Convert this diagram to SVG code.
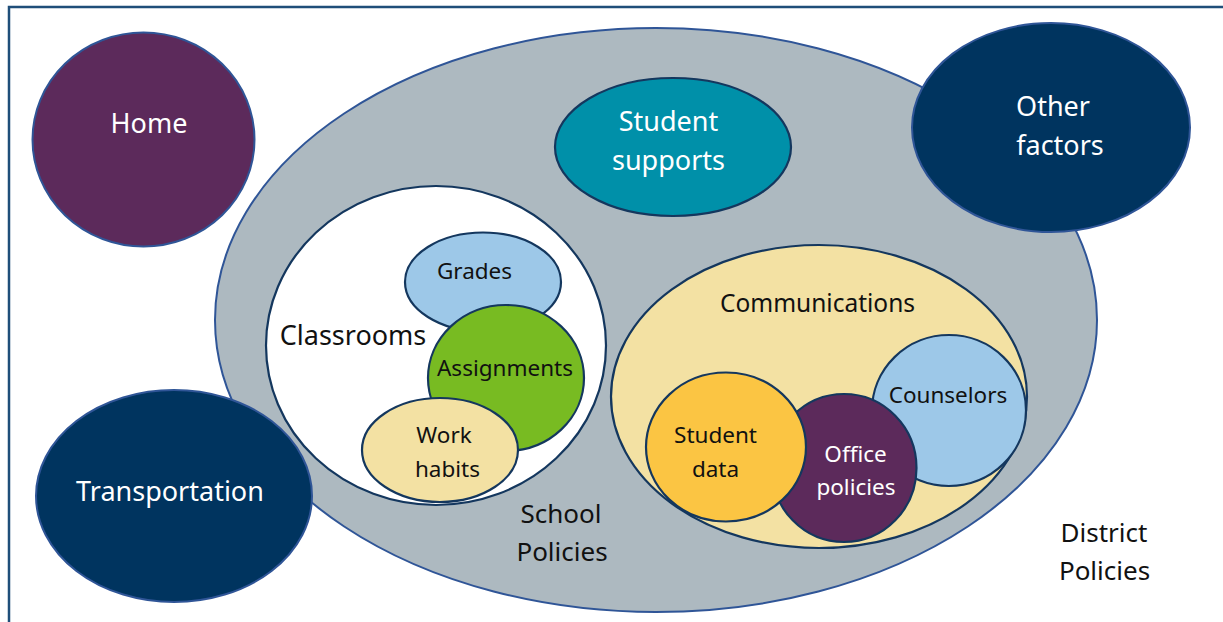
<svg xmlns="http://www.w3.org/2000/svg" width="1223" height="622" viewBox="0 0 1223 622">
  <style>
    text { font-family: "Noto Sans", "Open Sans", "DejaVu Sans", sans-serif; text-anchor: middle; }
    .light { fill: #ffffff; }
    .dark { fill: #111111; }
    .outer { stroke: #2f5597; stroke-width: 2; }
    .inner { stroke: #14375e; stroke-width: 2.2; }
    .big { font-size: 27px; }
    .mid { font-size: 22.5px; }
  </style>

  <!-- frame -->
  <rect x="9" y="7" width="1240" height="640" fill="#ffffff" stroke="#1f4e79" stroke-width="2.5"/>

  <!-- school policies (large gray ellipse) -->
  <g id="school-policies">
    <ellipse cx="656" cy="320" rx="441" ry="292" fill="#adb9c0" class="outer"/>
    <text class="dark" font-size="26" x="561" y="523">School</text>
    <text class="dark" font-size="26" x="562" y="561">Policies</text>
  </g>

  <g id="home">
    <ellipse cx="143.5" cy="139.5" rx="111" ry="107" fill="#5c2a5b" class="outer"/>
    <text class="light big" x="149" y="133">Home</text>
  </g>

  <g id="other-factors">
    <ellipse cx="1051" cy="127.5" rx="139" ry="104.5" fill="#00345f" class="outer"/>
    <text class="light big" x="1053" y="116">Other</text>
    <text class="light big" x="1060" y="155">factors</text>
  </g>

  <g id="transportation">
    <ellipse cx="174" cy="496" rx="138" ry="106" fill="#00345f" class="outer"/>
    <text class="light big" x="170" y="501">Transportation</text>
  </g>

  <g id="student-supports">
    <ellipse cx="673" cy="147" rx="118" ry="69" fill="#0090a9" class="inner"/>
    <text class="light big" x="668.5" y="131">Student</text>
    <text class="light big" x="668.5" y="170">supports</text>
  </g>

  <!-- classrooms and what sits inside them -->
  <g id="classrooms">
    <ellipse cx="436" cy="345.5" rx="170" ry="159.5" fill="#ffffff" class="inner"/>
    <text class="dark big" x="353" y="345">Classrooms</text>
  </g>

  <g id="grades">
    <ellipse cx="483" cy="282" rx="78" ry="49.5" fill="#9dc8e8" class="inner"/>
    <text class="dark mid" x="474.5" y="279">Grades</text>
  </g>

  <g id="assignments">
    <ellipse cx="506" cy="378" rx="78" ry="73" fill="#78bb22" class="inner"/>
    <text class="dark mid" x="505" y="376">Assignments</text>
  </g>

  <g id="work-habits">
    <ellipse cx="440" cy="450" rx="78" ry="52" fill="#f3e1a3" class="inner"/>
    <text class="dark mid" x="444" y="443">Work</text>
    <text class="dark mid" x="447.5" y="476.5">habits</text>
  </g>

  <!-- communications and what sits inside them -->
  <g id="communications">
    <ellipse cx="819" cy="396.5" rx="208" ry="151.5" fill="#f3e1a3" class="inner"/>
    <text class="dark" font-size="24.5" x="817.5" y="311.5">Communications</text>
  </g>

  <g id="counselors">
    <ellipse cx="949" cy="410.5" rx="77" ry="75.5" fill="#9dc8e8" class="inner"/>
    <text class="dark mid" x="948" y="402.5">Counselors</text>
  </g>

  <g id="office-policies">
    <ellipse cx="844" cy="468" rx="72.5" ry="74" fill="#5c2a5b" class="inner"/>
    <text class="light mid" x="855.5" y="461.5">Office</text>
    <text class="light mid" x="856" y="495">policies</text>
  </g>

  <g id="student-data">
    <ellipse cx="726" cy="447" rx="80" ry="74.5" fill="#fbc543" class="inner"/>
    <text class="dark mid" x="715.5" y="443">Student</text>
    <text class="dark mid" x="715.5" y="476.5">data</text>
  </g>

  <g id="district-policies">
    <text class="dark" font-size="26" x="1104" y="542">District</text>
    <text class="dark" font-size="26" x="1104.5" y="580">Policies</text>
  </g>

  <g id="connectors"/>
</svg>
